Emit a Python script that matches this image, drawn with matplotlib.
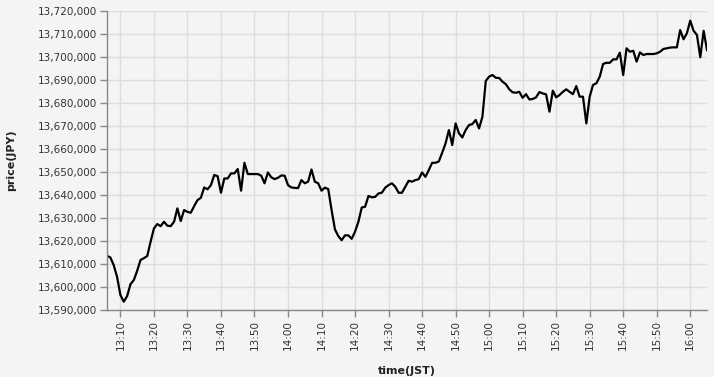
import pandas as pd
import matplotlib
matplotlib.use('Agg')
import matplotlib.pyplot as plt
import matplotlib.dates as mdates
from matplotlib.ticker import FuncFormatter, MultipleLocator

# one price per minute, 13:06 -> 16:05 (JST)
start_time = '2024-01-01 13:06'
prices_13 = [13613500, 13612800, 13609500, 13604400, 13596500, 13593600, 13596000, 13601200, 13603000, 13607000,
             13611700, 13612500, 13613400, 13619600, 13625400, 13627300, 13626400, 13628300, 13626600, 13626400,
             13628300, 13634100, 13628600, 13633400, 13632600, 13632200, 13635100, 13637700, 13638700, 13643200,
             13642400, 13644200, 13648600, 13648100, 13640900, 13647100, 13647100, 13649300, 13649300, 13651200,
             13641800, 13653900, 13649000, 13649000, 13649000, 13649000, 13648300, 13645000, 13649700, 13647600,
             13646800, 13647400, 13648400, 13648300]
prices_14 = [13644200, 13643200, 13643000, 13642900, 13646400, 13645000, 13645700, 13651000, 13645700, 13645000,
             13641800, 13643100, 13642500, 13633400, 13625000, 13622100, 13620300, 13622400, 13622400, 13620900,
             13624000, 13628300, 13634500, 13634800, 13639500, 13638900, 13639100, 13640600, 13640900, 13643100,
             13644200, 13645000, 13643500, 13640900, 13640900, 13643500, 13646100, 13645700, 13646400, 13646800,
             13649700, 13647800, 13650700, 13653900, 13653900, 13654500, 13658300, 13662300, 13668100, 13661600,
             13671000, 13666700, 13664900, 13668100, 13670300, 13670700, 13672500, 13668800, 13673900, 13689400]
prices_15 = [13691300, 13692000, 13690800, 13690700, 13689100, 13688000, 13685800, 13684500, 13684300, 13684700,
             13682100, 13683700, 13681400, 13681600, 13682300, 13684600, 13684000, 13683600, 13676100, 13685200,
             13682300, 13683300, 13684700, 13685800, 13684700, 13683700, 13687200, 13682600, 13682600, 13671000,
             13682600, 13687700, 13688400, 13691300, 13696800, 13697300, 13697300, 13698800, 13698800, 13701700,
             13692000, 13703600, 13702100, 13702500, 13697800, 13701800, 13700700, 13701100, 13701100, 13701100,
             13701400, 13702100, 13703300, 13703600, 13703900, 13704000, 13704000, 13711500, 13707500, 13710100]
prices_16 = [13715600, 13711200, 13709400, 13699700, 13711200, 13702800]

prices = prices_13 + prices_14 + prices_15 + prices_16
times = pd.date_range(start_time, periods=len(prices), freq='min')

bg = '#f4f4f4'
plt.rcParams['font.family'] = ['DejaVu Sans']

fig = plt.figure(figsize=(7.14, 3.77), dpi=100, facecolor=bg)
ax = fig.add_axes([107 / 714, 67 / 377, 600 / 714, 299.5 / 377])
ax.set_facecolor(bg)

ax.plot(times, prices, color='black', linewidth=1.6)

ax.set_xlim(times[0], times[-1])
ax.set_ylim(13590000, 13720000)
ax.yaxis.set_major_locator(MultipleLocator(10000))
ax.yaxis.set_major_formatter(FuncFormatter(lambda v, p: f'{int(v):,}'))
ax.xaxis.set_major_locator(mdates.MinuteLocator(byminute=range(0, 60, 10)))
ax.xaxis.set_major_formatter(mdates.DateFormatter('%H:%M'))

ax.grid(True, color='#dddddd', linewidth=1)
ax.set_axisbelow(True)
for side in ['top', 'right']:
    ax.spines[side].set_visible(False)
for side in ['left', 'bottom']:
    ax.spines[side].set_color('#888888')
    ax.spines[side].set_linewidth(1)

ax.tick_params(axis='both', colors='#888888', length=5, width=1, labelcolor='#333333', labelsize=7.5, pad=2)
plt.setp(ax.get_xticklabels(), rotation=90, va='top', ha='center')

ax.set_ylabel('price(JPY)', fontsize=8, fontweight='bold', color='#222222', labelpad=16)
ax.set_xlabel('time(JST)', fontsize=8, fontweight='bold', color='#222222', labelpad=12)

fig.savefig('out.png', dpi=100, facecolor=bg)
